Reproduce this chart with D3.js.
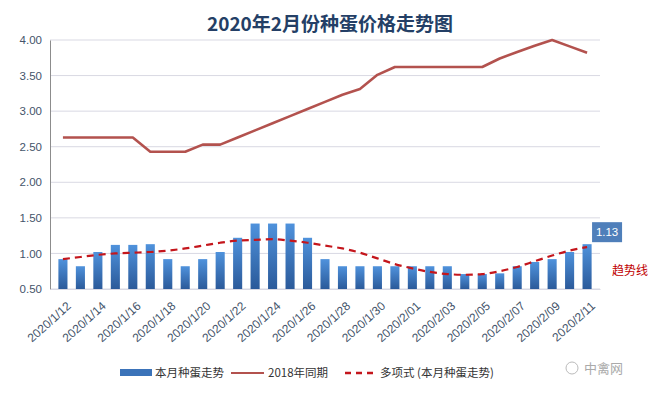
<!DOCTYPE html>
<html>
<head>
<meta charset="utf-8">
<script src="https://cdn.jsdelivr.net/npm/d3@7"></script>
<style>
  body { margin: 0; background: #fff; }
  svg { display: block; }
</style>
</head>
<body>
<svg id="chart" width="657" height="394"></svg>
<script>
// dates 2020/1/12 .. 2020/2/11
const dates = [
  '2020/1/12', '2020/1/13', '2020/1/14', '2020/1/15', '2020/1/16', '2020/1/17',
  '2020/1/18', '2020/1/19', '2020/1/20', '2020/1/21', '2020/1/22', '2020/1/23',
  '2020/1/24', '2020/1/25', '2020/1/26', '2020/1/27', '2020/1/28', '2020/1/29',
  '2020/1/30', '2020/1/31', '2020/2/01', '2020/2/02', '2020/2/03', '2020/2/04',
  '2020/2/05', '2020/2/06', '2020/2/07', '2020/2/08', '2020/2/09', '2020/2/10',
  '2020/2/11',
]
// 本月种蛋走势
const thisMonth = [
  0.92, 0.82, 1.02, 1.12, 1.12, 1.13, 0.92, 0.82, 0.92, 1.02, 1.22,
  1.42, 1.42, 1.42, 1.22, 0.92, 0.82, 0.82, 0.82, 0.82, 0.82, 0.82,
  0.82, 0.71, 0.71, 0.72, 0.82, 0.88, 0.92, 1.02, 1.13,
]
// 2018年同期
const lastYear = [
  2.63, 2.63, 2.63, 2.63, 2.63, 2.43, 2.43, 2.43, 2.53, 2.53, 2.63,
  2.73, 2.83, 2.93, 3.03, 3.13, 3.23, 3.31, 3.51, 3.62, 3.62, 3.62,
  3.62, 3.62, 3.62, 3.74, 3.83, 3.92, 4.00, 3.91, 3.82,
]
// 多项式 (本月种蛋走势)
const trend = [
  0.92, 0.95, 0.98, 1.00, 1.01, 1.02, 1.04, 1.07, 1.11, 1.15, 1.18,
  1.19, 1.20, 1.18, 1.15, 1.11, 1.07, 1.01, 0.93, 0.85, 0.79, 0.74,
  0.71, 0.70, 0.71, 0.75, 0.81, 0.89, 0.97, 1.04, 1.09,
]
const yTicks = [0.5, 1.0, 1.5, 2.0, 2.5, 3.0, 3.5, 4.0]

const svg = d3.select('#chart')
const mLeft = 50, mRight = 600, mTop = 40, mBottom = 289
const font = '"Liberation Sans", Arial, sans-serif'
const cjk = '"Noto Sans CJK SC", sans-serif'

const x = d3.scaleBand().domain(dates).range([mLeft, mRight]).padding(0.48)
const y = d3.scaleLinear().domain([0.5, 4]).range([mBottom, mTop])
const cx = d => x(d) + x.bandwidth() / 2

// gradient for bars
const defs = svg.append('defs')
const grad = defs.append('linearGradient')
  .attr('id', 'barGrad').attr('x1', 0).attr('y1', 0).attr('x2', 0).attr('y2', 1)
grad.append('stop').attr('offset', '0%').attr('stop-color', '#4f92dc')
grad.append('stop').attr('offset', '100%').attr('stop-color', '#2b5a9a')

// title
svg.append('text')
  .attr('x', 330).attr('y', 31)
  .attr('text-anchor', 'middle')
  .style('font-family', cjk).style('font-weight', 'bold')
  .style('font-size', '19px').style('fill', '#243f66')
  .text('2020年2月份种蛋价格走势图')

// grid
svg.append('g')
  .selectAll('line')
  .data(yTicks)
  .join('line')
  .attr('x1', mLeft).attr('x2', mRight)
  .attr('y1', d => y(d)).attr('y2', d => y(d))
  .attr('stroke', '#d9d9e3').attr('stroke-width', 1)

// y axis
const yAxis = svg.append('g')
  .attr('transform', `translate(${mLeft},0)`)
  .call(d3.axisLeft(y).tickValues(yTicks).tickFormat(d3.format('.2f')).tickSize(0).tickPadding(8))
yAxis.select('.domain').attr('stroke', '#8c8c8c')
yAxis.selectAll('text')
  .style('font-family', font).style('font-size', '11.5px').style('fill', '#44546a')

// bars
svg.append('g')
  .selectAll('rect')
  .data(thisMonth)
  .join('rect')
  .attr('x', (d, i) => x(dates[i]))
  .attr('y', d => y(d))
  .attr('width', x.bandwidth())
  .attr('height', d => mBottom - y(d))
  .attr('fill', 'url(#barGrad)')

// x axis
const xAxis = svg.append('g')
  .attr('transform', `translate(0,${mBottom})`)
  .call(d3.axisBottom(x).tickValues(dates.filter((d, i) => i % 2 === 0)).tickSize(0).tickPadding(6))
xAxis.select('.domain').attr('stroke', '#d9d9e3')
xAxis.selectAll('.tick text')
  .style('font-family', font).style('font-size', '12px').style('fill', '#44546a')
  .attr('text-anchor', 'end')
  .attr('x', 0).attr('y', 0).attr('dy', '0.35em')
  .attr('transform', 'translate(6,15) rotate(-42)')

// 2018 line
const line = d3.line()
  .x((d, i) => cx(dates[i]))
  .y(d => y(d))
svg.append('path')
  .datum(lastYear)
  .attr('d', line)
  .attr('fill', 'none')
  .attr('stroke', '#b3524e')
  .attr('stroke-width', 2.6)
  .attr('stroke-linejoin', 'round')

// trend line
svg.append('path')
  .datum(trend)
  .attr('d', line.curve(d3.curveMonotoneX))
  .attr('fill', 'none')
  .attr('stroke', '#c4161c')
  .attr('stroke-width', 2.2)
  .attr('stroke-dasharray', '7,5')

// data label for last bar
const lastI = thisMonth.length - 1
const lx = cx(dates[lastI]), ly = y(thisMonth[lastI])
svg.append('rect')
  .attr('x', lx + 5).attr('y', ly - 22)
  .attr('width', 30).attr('height', 20)
  .attr('fill', '#4f7fba')
svg.append('text')
  .attr('x', lx + 20).attr('y', ly - 8)
  .attr('text-anchor', 'middle')
  .style('font-family', font).style('font-size', '11.5px').style('fill', '#fff')
  .text(d3.format('.2f')(thisMonth[lastI]))

svg.append('text')
  .attr('x', 612).attr('y', 275)
  .style('font-family', cjk).style('font-size', '12px').style('fill', '#c00000')
  .text('趋势线')

// legend
const lg = svg.append('g').attr('transform', 'translate(0,373)')
lg.append('rect').attr('x', 120).attr('y', -4).attr('width', 32).attr('height', 7).attr('fill', '#3b73b9')
lg.append('text').attr('x', 155).attr('y', 4).text('本月种蛋走势')
lg.append('line').attr('x1', 231).attr('x2', 264).attr('y1', 0).attr('y2', 0)
  .attr('stroke', '#b3524e').attr('stroke-width', 2)
lg.append('text').attr('x', 268).attr('y', 4).text('2018年同期')
lg.append('line').attr('x1', 345).attr('x2', 377).attr('y1', 0).attr('y2', 0)
  .attr('stroke', '#c4161c').attr('stroke-width', 2.5).attr('stroke-dasharray', '6,5')
lg.append('text').attr('x', 380).attr('y', 4).text('多项式 (本月种蛋走势)')
lg.selectAll('text')
  .style('font-family', cjk).style('font-size', '11.5px').style('fill', '#333')

// watermark
const wm = svg.append('g').attr('transform', 'translate(0,368)')
wm.append('circle').attr('cx', 572).attr('cy', 0).attr('r', 6)
  .attr('fill', 'none').attr('stroke', '#bbb').attr('stroke-width', 1)
wm.append('text').attr('x', 584).attr('y', 5)
  .style('font-family', cjk).style('font-size', '13px').style('fill', '#aaa')
  .text('中禽网')
</script>
</body>
</html>
